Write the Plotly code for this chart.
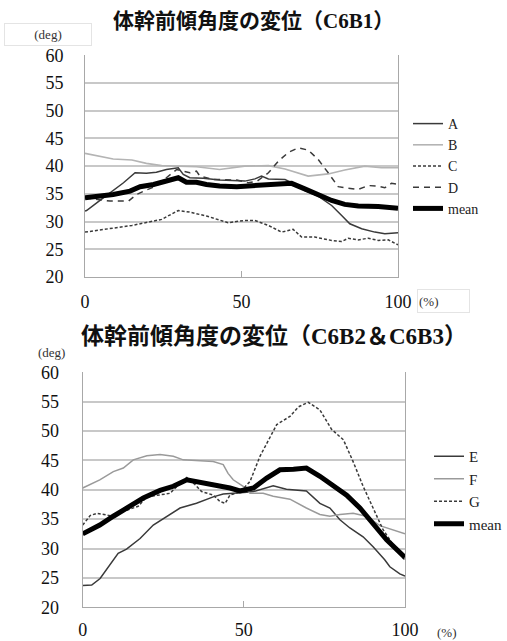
import plotly.graph_objects as go

# ---------------- Chart 1 (C6B1) ----------------
A_x = [0, 0.5, 5, 8, 9.3, 12.3, 16, 19.6, 22.8, 26, 29.8, 31.4, 33.5, 37.8, 43, 48.5, 51.1, 54.3, 56.4, 58.6, 63.9, 66.5, 70.2, 74.5, 78.8, 82, 84.6, 88.4, 92.6, 95.8, 100]
A_y = [31.9, 32.0, 33.9, 35.2, 35.7, 37.0, 38.8, 38.7, 38.9, 39.4, 39.7, 38.5, 37.9, 37.8, 37.5, 37.3, 37.3, 37.7, 38.2, 37.7, 37.6, 36.9, 35.6, 34.6, 32.9, 31.1, 29.6, 28.7, 28.1, 27.8, 28.0]

B_x = [0, 9, 15, 19.6, 24.5, 30, 35.6, 43, 47.3, 51, 58.6, 63.9, 71.3, 77.7, 83, 89.4, 94.7, 100]
B_y = [42.3, 41.3, 41.1, 40.5, 40.1, 40.0, 39.9, 39.4, 39.7, 40.0, 40.1, 39.5, 38.2, 38.6, 39.3, 40.0, 39.7, 39.7]

C_x = [0, 9, 15, 24.5, 29.8, 33.5, 38.8, 45.7, 51, 54.3, 58.6, 62.8, 66.5, 69.2, 73.4, 78.8, 82, 84.1, 87.3, 90.5, 93.7, 96.9, 100]
C_y = [28.1, 28.8, 29.3, 30.4, 32.0, 31.7, 31.0, 29.8, 30.2, 30.2, 29.3, 28.1, 28.6, 27.2, 27.2, 26.6, 26.4, 27.0, 26.7, 27.0, 26.6, 26.7, 25.8]

D_x = [0, 4.8, 8, 13.9, 16.5, 19.6, 22.8, 26, 29.3, 31.4, 33.5, 35.6, 36.7, 40.9, 48.5, 52.2, 55, 58.6, 61.8, 65, 68.1, 71.3, 74.5, 77.7, 80.9, 84.1, 87.3, 90.5, 93.7, 95.8, 97.9, 100]
D_y = [34.3, 34.0, 33.7, 33.7, 34.9, 35.7, 36.4, 37.9, 39.4, 39.1, 38.8, 39.1, 38.2, 37.6, 37.5, 37.0, 37.3, 38.8, 40.9, 42.5, 43.3, 42.9, 41.2, 38.8, 36.3, 36.0, 35.8, 36.5, 36.4, 36.1, 36.9, 36.7]

M1_x = [0, 9, 14.4, 17.6, 21.9, 26, 29.8, 32.4, 35.6, 38.8, 43, 48.5, 53.2, 58.6, 66, 70.2, 74.5, 78.8, 83, 87.3, 93.7, 100]
M1_y = [34.3, 34.9, 35.5, 36.3, 36.7, 37.3, 37.9, 37.1, 37.1, 36.7, 36.4, 36.3, 36.5, 36.7, 36.9, 35.9, 34.9, 33.8, 33.1, 32.8, 32.7, 32.4]

# ---------------- Chart 2 (C6B2 & C6B3) ----------------
E_x = [0, 0.7, 2.8, 5.4, 8.5, 11, 13.6, 17.8, 21.9, 25, 30.2, 35.3, 40.5, 43.6, 47.7, 50.9, 53, 59.1, 63.2, 69.4, 73.6, 76.7, 79.8, 82.9, 87, 90.1, 93.7, 95.3, 98.4, 100]
E_y = [23.7, 23.7, 23.8, 24.9, 27.2, 29.2, 29.9, 31.7, 34.0, 35.1, 36.9, 37.7, 38.8, 39.3, 39.4, 39.6, 39.7, 40.7, 40.1, 39.8, 37.7, 36.9, 34.9, 33.5, 32.0, 30.3, 28.1, 26.9, 25.7, 25.3]

F_x = [0, 5.3, 9.5, 12.6, 15.7, 19.9, 24, 28.1, 31.2, 36.4, 40.5, 43.6, 45.1, 46.7, 49.8, 51.9, 56, 59.1, 64.3, 69.4, 73.6, 76.7, 79.8, 83.9, 88, 92.2, 96.4, 100]
F_y = [40.3, 41.7, 43.1, 43.7, 45.1, 45.8, 46.0, 45.7, 45.1, 45.0, 44.8, 44.3, 42.8, 41.7, 40.6, 39.4, 39.4, 38.9, 38.4, 36.9, 35.8, 35.5, 35.8, 36.0, 35.5, 33.9, 33.1, 32.5]

G_x = [0, 2.3, 4.4, 8.5, 12.6, 17.2, 19.9, 24, 27.1, 30.2, 32.3, 34.8, 36.9, 40.5, 42.6, 44.2, 45.7, 48.8, 51.9, 55, 58, 60.2, 64.3, 66.9, 70, 73.6, 77.2, 80.9, 83.9, 87, 90.1, 93.2, 96.4, 100]
G_y = [34.0, 35.6, 36.0, 35.6, 36.3, 37.2, 38.8, 39.1, 39.4, 41.1, 42.1, 40.9, 39.7, 39.1, 38.0, 37.7, 39.1, 39.6, 41.4, 45.7, 48.8, 51.1, 52.5, 54.1, 54.9, 53.6, 50.3, 48.5, 44.8, 40.6, 36.9, 33.2, 30.6, 28.0]

M2_x = [0, 5.3, 9.5, 14.7, 18.8, 24, 28.1, 32.3, 35.3, 39.5, 42.6, 45.7, 48.8, 53, 57.1, 61.2, 65.4, 69.4, 73.6, 77.7, 81.9, 86, 90.1, 94.3, 100]
M2_y = [32.5, 34.0, 35.5, 37.2, 38.6, 39.9, 40.6, 41.7, 41.4, 41.0, 40.7, 40.3, 39.8, 40.3, 42.0, 43.4, 43.5, 43.7, 42.3, 40.6, 39.1, 36.9, 34.3, 31.5, 28.5]

Y_TICKS = [20, 25, 30, 35, 40, 45, 50, 55, 60]
X_TICKS = [0, 50, 100]
TITLE1 = "体幹前傾角度の変位（C6B1）"
TITLE2 = "体幹前傾角度の変位（C6B2＆C6B3）"
UNIT_Y = "(deg)"
UNIT_X = "(%)"

W, H = 507, 641
SERIF = "Liberation Serif, Noto Sans CJK JP"
DARK = "#3a3a3a"
LIGHT = "#b4b4b4"
GRID = "#c8c8c8"
AXIS = "#a8a8a8"

def px(v):
    return v / W

def py(v):
    return 1 - v / H

fig = go.Figure()

styles = {
    "A": dict(color=DARK, width=1.5, dash="solid"),
    "B": dict(color=LIGHT, width=1.6, dash="solid"),
    "C": dict(color=DARK, width=1.5, dash="3px,2px"),
    "D": dict(color=DARK, width=1.5, dash="6px,5px"),
    "mean": dict(color="#000000", width=5, dash="solid"),
    "E": dict(color=DARK, width=1.5, dash="solid"),
    "F": dict(color="#9a9a9a", width=1.5, dash="solid"),
    "G": dict(color=DARK, width=1.5, dash="3px,2px"),
}

top = [("A", A_x, A_y), ("B", B_x, B_y), ("C", C_x, C_y), ("D", D_x, D_y), ("mean", M1_x, M1_y)]
bot = [("E", E_x, E_y), ("F", F_x, F_y), ("G", G_x, G_y), ("mean", M2_x, M2_y)]

for name, xs, ys in top:
    fig.add_trace(go.Scatter(x=xs, y=ys, mode="lines", name=name, line=styles[name],
                             xaxis="x", yaxis="y", legend="legend", hoverinfo="skip"))
for name, xs, ys in bot:
    fig.add_trace(go.Scatter(x=xs, y=ys, mode="lines", name=name, line=styles[name],
                             xaxis="x2", yaxis="y2", legend="legend2", hoverinfo="skip"))

tickfont = dict(family=SERIF, size=18, color="#111111")

def yax(domain, anchor, standoff):
    return dict(domain=domain, anchor=anchor, range=[20, 60], tickvals=Y_TICKS,
                showgrid=True, gridcolor=GRID, gridwidth=1.5, zeroline=False,
                showline=True, linecolor=AXIS, linewidth=1, mirror=True, automargin=False,
                ticks="", tickfont=tickfont, ticklabelstandoff=standoff, fixedrange=True)

def xax(domain, anchor, standoff):
    return dict(domain=domain, anchor=anchor, range=[0, 100], tickvals=X_TICKS,
                showgrid=False, zeroline=False, showline=True, linecolor=AXIS, linewidth=1,
                automargin=False, ticks="inside", ticklen=6, tickcolor=AXIS, tickfont=tickfont,
                ticklabelstandoff=standoff, fixedrange=True)

fig.update_layout(
    width=W, height=H, margin=dict(l=0, r=0, t=0, b=0, autoexpand=False), autosize=False,
    paper_bgcolor="white", plot_bgcolor="white",
    xaxis=xax([px(85), px(398)], "y", 8),
    yaxis=yax([py(277), py(55.3)], "x", 17),
    xaxis2=xax([px(82.7), px(405)], "y2", 6),
    yaxis2=yax([py(607.3), py(372.3)], "x2", 19),
    legend=dict(x=px(408), y=py(108), xanchor="left", yanchor="top",
                font=dict(family=SERIF, size=14, color="#222222"),
                tracegroupgap=0, bgcolor="rgba(0,0,0,0)", itemwidth=30),
    legend2=dict(x=1, y=py(440), xanchor="right", yanchor="top",
                 font=dict(family=SERIF, size=15, color="#222222"),
                 tracegroupgap=0, bgcolor="rgba(0,0,0,0)", itemwidth=30),
    showlegend=True,
)

unit_font = dict(family=SERIF, size=13, color="#333333")
ann = []
ann.append(dict(text="<b>" + TITLE1 + "</b>", x=px(253), y=py(21), xref="paper", yref="paper",
                xanchor="center", yanchor="middle", showarrow=False,
                font=dict(family=SERIF, size=21, color="#111111")))
ann.append(dict(text="<b>" + TITLE2 + "</b>", x=px(274), y=py(336), xref="paper", yref="paper",
                xanchor="center", yanchor="middle", showarrow=False,
                font=dict(family=SERIF, size=23, color="#111111")))
ann.append(dict(text=UNIT_Y, x=px(48), y=py(34.5), xref="paper", yref="paper", showarrow=False,
                xanchor="center", yanchor="middle",
                width=84, height=19, bordercolor="#e4e4e4", borderwidth=1, font=unit_font))
ann.append(dict(text=UNIT_X, x=px(443.5), y=py(301), xref="paper", yref="paper", showarrow=False,
                xanchor="center", yanchor="middle", align="left",
                width=49, height=20, bordercolor="#e4e4e4", borderwidth=1, font=unit_font))
ann.append(dict(text=UNIT_Y, x=px(51), y=py(352), xref="paper", yref="paper", showarrow=False,
                xanchor="center", yanchor="middle", font=unit_font))
ann.append(dict(text=UNIT_X, x=px(447), y=py(632), xref="paper", yref="paper", showarrow=False,
                xanchor="center", yanchor="middle", font=unit_font))
fig.update_layout(annotations=ann)

post = ("document.documentElement.style.margin='0';document.documentElement.style.overflow='hidden';"
        "document.body.style.margin='0';document.body.style.padding='0';document.body.style.overflow='hidden';")
fig.write_html("out.html", post_script=post,
               config={"displayModeBar": False, "responsive": False})
